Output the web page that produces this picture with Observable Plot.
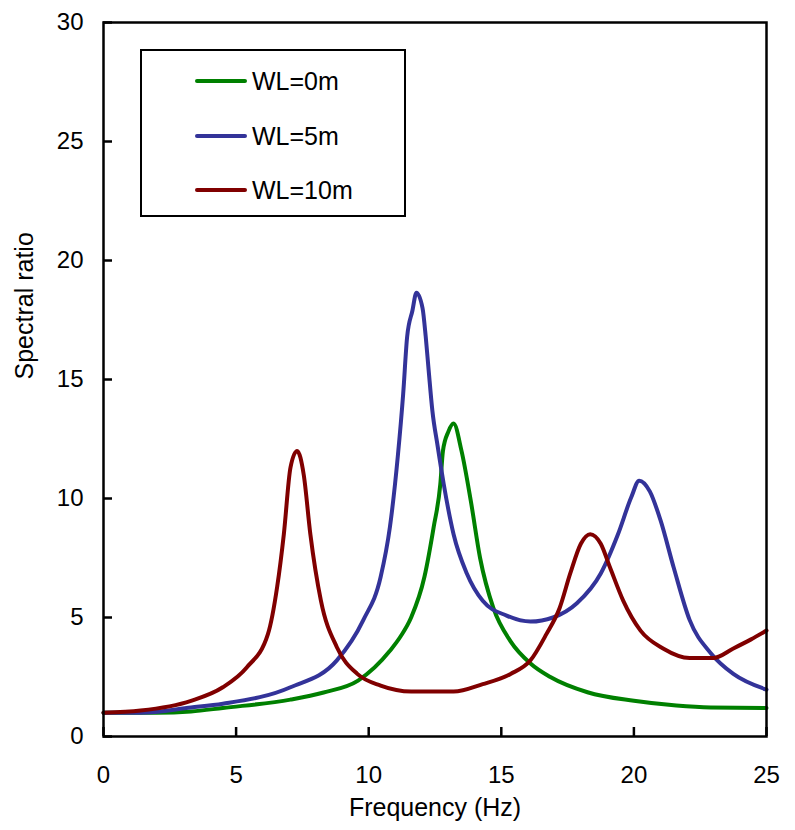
<!DOCTYPE html>
<html>
<head>
<meta charset="utf-8">
<script src="https://cdn.jsdelivr.net/npm/d3@7"></script>
<script src="https://cdn.jsdelivr.net/npm/@observablehq/plot@0.6"></script>
<style>
  body { margin: 0; background: #fff; }
  #wrap { position: relative; width: 795px; height: 830px; font-family: "Liberation Sans", Arial, sans-serif; }
  #legend { position: absolute; left: 140px; top: 49px; width: 262px; height: 164px; border: 2px solid #000; background: #fff; box-sizing: content-box; }
  .row { position: absolute; left: 53px; height: 30px; display: flex; align-items: center; font-size: 25px; color: #000; }
  .row .sw { width: 52px; height: 4px; border-radius: 2px; margin-right: 5px; }
</style>
</head>
<body>
<div id="wrap"></div>
<script>
// Data
const seriesNames = ["WL=0m", "WL=5m", "WL=10m"];
const seriesColors = ["#008000", "#333399", "#800000"];

const green_f = [0, 2, 3.3, 4.5, 7.05, 8.3, 9.6, 10.8, 11.2, 11.6, 12.1, 12.45, 12.7, 12.8, 13.0, 13.2, 13.5, 13.85, 14.2, 14.7, 15.35, 16.1, 16.85, 18.25, 20.0, 21.6, 22.9, 25];
const green_v = [1.0, 1.0, 1.05, 1.2, 1.55, 1.85, 2.35, 3.6, 4.2, 5.0, 6.7, 8.8, 10.6, 12.0, 12.8, 13.15, 12.0, 9.9, 7.5, 5.4, 4.0, 3.07, 2.5, 1.86, 1.5, 1.3, 1.22, 1.2];

const blue_f = [0, 1.4, 3.3, 4.5, 7.05, 8.8, 9.8, 10.45, 10.8, 11.1, 11.3, 11.45, 11.65, 11.8, 12.03, 12.15, 12.26, 12.4, 12.6, 12.83, 13.2, 13.7, 14.3, 15.2, 16.1, 16.95, 17.85, 18.75, 19.4, 19.9, 20.2, 20.6, 21.0, 21.5, 22.1, 22.9, 23.75, 25];
const blue_v = [1.0, 1.0, 1.22, 1.38, 2.07, 3.2, 4.9, 6.7, 8.8, 11.8, 14.4, 16.8, 17.9, 18.65, 18.0, 16.8, 15.4, 13.7, 12.2, 10.6, 8.5, 6.85, 5.7, 5.08, 4.83, 5.0, 5.6, 6.85, 8.5, 10.05, 10.75, 10.3, 9.1, 7.1, 4.9, 3.5, 2.63, 1.97];

const red_f = [0, 1.4, 3.3, 4.5, 5.4, 6.2, 6.55, 6.8, 7.05, 7.3, 7.55, 7.8, 8.2, 8.8, 9.57, 10.45, 11.6, 12.7, 13.2, 14.3, 15.35, 16.1, 16.7, 17.2, 17.6, 18.0, 18.35, 18.75, 19.1, 19.6, 20.25, 21.1, 22.1, 23.0, 23.75, 24.4, 25];
const red_v = [1.0, 1.09, 1.5, 2.07, 2.9, 4.3, 6.3, 8.5, 11.3, 12.0, 11.0, 8.5, 5.7, 3.75, 2.63, 2.14, 1.89, 1.89, 1.89, 2.2, 2.63, 3.2, 4.3, 5.4, 6.85, 8.1, 8.5, 8.1, 7.1, 5.7, 4.45, 3.7, 3.3, 3.3, 3.7, 4.07, 4.45];

const xTicks = [0, 5, 10, 15, 20, 25];
const yTicks = [0, 5, 10, 15, 20, 25, 30];

const toRows = (fs, vs) => fs.map((f, i) => ({f, v: vs[i]}));
const allSeries = [toRows(green_f, green_v), toRows(blue_f, blue_v), toRows(red_f, red_v)];

const W = 795, H = 830, mL = 103, mR = 29, mT = 22, mB = 94, tickLen = 9;
const frameW = W - mL - mR, frameH = H - mT - mB;

const chart = Plot.plot({
  width: W,
  height: H,
  marginLeft: mL,
  marginRight: mR,
  marginTop: mT,
  marginBottom: mB,
  style: {fontFamily: '"Liberation Sans", Arial, sans-serif', fontSize: "24px", color: "#000", background: "#fff"},
  x: {domain: [0, 25]},
  y: {domain: [0, 30]},
  marks: [
    ...allSeries.map((rows, i) => Plot.line(rows, {x: "f", y: "v", stroke: seriesColors[i], strokeWidth: 4, curve: "monotone-x"})),
    Plot.frame({stroke: "#000", strokeWidth: 2.5}),
    // short inward tick marks
    Plot.tickX(xTicks, {x: d => d, insetTop: frameH - tickLen, stroke: "#000", strokeWidth: 2.5}),
    Plot.tickY(yTicks, {y: d => d, insetRight: frameW - tickLen, stroke: "#000", strokeWidth: 2.5}),
    Plot.axisX({ticks: xTicks, tickSize: 0, tickPadding: 29, label: null, fontSize: 24}),
    Plot.axisY({ticks: yTicks, tickSize: 0, tickPadding: 20, label: null, fontSize: 24}),
    Plot.text(["Frequency (Hz)"], {frameAnchor: "bottom", dy: 79, fontSize: 25, fill: "#000"}),
    Plot.text(["Spectral ratio"], {frameAnchor: "left", dx: -79, rotate: -90, fontSize: 25, fill: "#000"})
  ]
});

const wrap = document.getElementById("wrap");
wrap.appendChild(chart);

const legend = document.createElement("div");
legend.id = "legend";
const rowTops = [15, 70, 124];
seriesNames.forEach((name, i) => {
  const row = document.createElement("div");
  row.className = "row";
  row.style.top = rowTops[i] + "px";
  const sw = document.createElement("div");
  sw.className = "sw";
  sw.style.background = seriesColors[i];
  const label = document.createElement("span");
  label.textContent = name;
  row.appendChild(sw);
  row.appendChild(label);
  legend.appendChild(row);
});
wrap.appendChild(legend);
</script>
</body>
</html>
